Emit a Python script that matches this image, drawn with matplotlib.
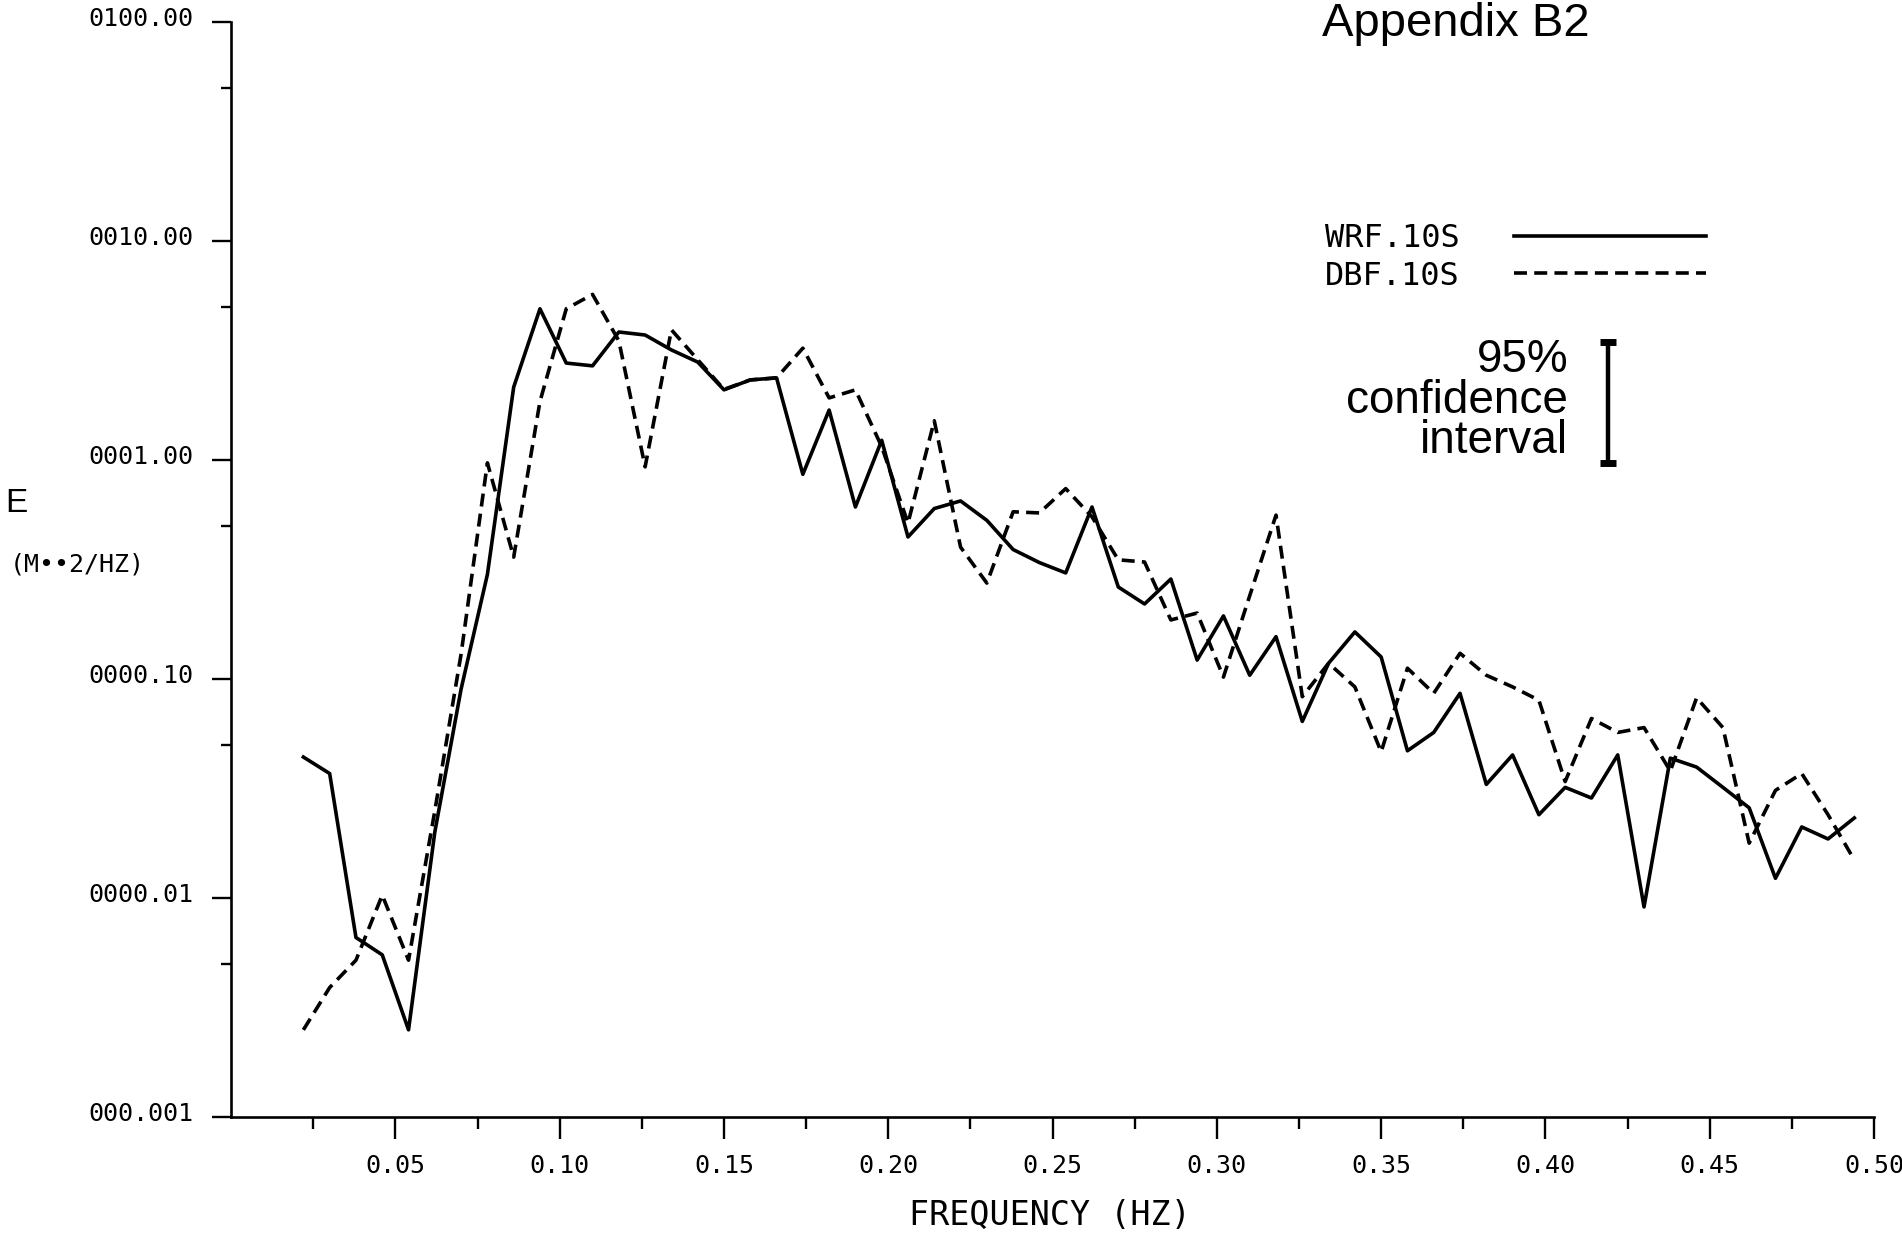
import numpy as np
import matplotlib
matplotlib.use("Agg")
import matplotlib.pyplot as plt
from matplotlib.ticker import FixedLocator, FixedFormatter, NullFormatter
from matplotlib.transforms import ScaledTranslation

# frequencies (Hz) of the spectral estimates
freq = [0.022, 0.030, 0.038, 0.046, 0.054, 0.062, 0.070, 0.078, 0.086, 0.094,
        0.102, 0.110, 0.118, 0.126, 0.134, 0.142, 0.150, 0.158, 0.166, 0.174,
        0.182, 0.190, 0.198, 0.206, 0.214, 0.222, 0.230, 0.238, 0.246, 0.254,
        0.262, 0.270, 0.278, 0.286, 0.294, 0.302, 0.310, 0.318, 0.326, 0.334,
        0.342, 0.350, 0.358, 0.366, 0.374, 0.382, 0.390, 0.398, 0.406, 0.414,
        0.422, 0.430, 0.438, 0.446, 0.454, 0.462, 0.470, 0.478, 0.486, 0.494]

# WRF.10S spectrum (solid)
wrf = [0.044, 0.037, 0.0066, 0.0055, 0.0025, 0.020, 0.09, 0.30, 2.15, 4.9,
       2.77, 2.69, 3.84, 3.72, 3.18, 2.8, 2.09, 2.32, 2.37, 0.86,
       1.69, 0.61, 1.23, 0.445, 0.60, 0.65, 0.53, 0.39, 0.34, 0.305,
       0.61, 0.263, 0.22, 0.286, 0.122, 0.194, 0.104, 0.156, 0.064, 0.118,
       0.164, 0.126, 0.047, 0.057, 0.086, 0.033, 0.045, 0.024, 0.032, 0.0286,
       0.045, 0.0091, 0.0435, 0.0396, 0.032, 0.0258, 0.0123, 0.0211, 0.0186, 0.0232]

# DBF.10S spectrum (dashed)
dbf = [0.0025, 0.0039, 0.0052, 0.0103, 0.0052, 0.025, 0.13, 0.97, 0.36, 1.85,
       4.9, 5.7, 3.5, 0.93, 3.93, 2.87, 2.1, 2.32, 2.37, 3.24,
       1.92, 2.09, 1.15, 0.515, 1.51, 0.40, 0.274, 0.58, 0.573, 0.74,
       0.55, 0.35, 0.342, 0.186, 0.20, 0.102, 0.24, 0.56, 0.083, 0.118,
       0.092, 0.0465, 0.112, 0.086, 0.131, 0.104, 0.092, 0.080, 0.034, 0.066,
       0.057, 0.060, 0.038, 0.082, 0.060, 0.0178, 0.031, 0.037, 0.024, 0.0149]

ytick_vals = [0.001, 0.01, 0.1, 1, 10, 100]
ytick_labels = ["000.001", "0000.01", "0000.10", "0001.00", "0010.00", "0100.00"]
xtick_vals = [0.05, 0.10, 0.15, 0.20, 0.25, 0.30, 0.35, 0.40, 0.45, 0.50]
xtick_labels = ["0.05", "0.10", "0.15", "0.20", "0.25", "0.30", "0.35", "0.40", "0.45", "0.50"]

# 95% confidence bar (frequency, lower, upper)
ci_f = 0.419
ci_lo = 0.97
ci_hi = 3.46

mono = "DejaVu Sans Mono"
sans = "Liberation Sans"

fig = plt.figure(figsize=(19.02, 12.40), dpi=100)
ax = fig.add_axes([0.1215, 0.0992, 0.8638, 0.8831])

ax.plot(freq, wrf, color="black", lw=2.6, label="WRF.10S")
ax.plot(freq, dbf, color="black", lw=2.6, linestyle=(0, (3.6, 2.0)), label="DBF.10S")

ax.set_yscale("log")
ax.set_ylim(0.001, 100)
ax.set_xlim(0, 0.5)

ax.yaxis.set_major_locator(FixedLocator(ytick_vals))
ax.yaxis.set_major_formatter(FixedFormatter(ytick_labels))
ax.yaxis.set_minor_locator(FixedLocator([0.005, 0.05, 0.5, 5, 50]))
ax.yaxis.set_minor_formatter(NullFormatter())
ax.xaxis.set_major_locator(FixedLocator(xtick_vals))
ax.xaxis.set_major_formatter(FixedFormatter(xtick_labels))
ax.xaxis.set_minor_locator(FixedLocator([0.025, 0.075, 0.125, 0.175, 0.225, 0.275,
                                         0.325, 0.375, 0.425, 0.475]))

for s in ["top", "right"]:
    ax.spines[s].set_visible(False)
for s in ["left", "bottom"]:
    ax.spines[s].set_linewidth(1.9)

ax.tick_params(axis="y", which="major", direction="out", length=14, width=1.7, pad=13)
ax.tick_params(axis="y", which="minor", direction="out", length=7, width=1.7)
ax.tick_params(axis="x", which="major", direction="out", length=16, width=1.7, pad=11)
ax.tick_params(axis="x", which="minor", direction="out", length=8.5, width=1.7)

off = ScaledTranslation(0, 4 / 72, fig.dpi_scale_trans)
for lab in ax.get_yticklabels():
    lab.set_fontfamily(mono)
    lab.set_fontsize(18)
    lab.set_transform(lab.get_transform() + off)
for lab in ax.get_xticklabels():
    lab.set_fontfamily(mono)
    lab.set_fontsize(18)

# confidence interval bar
ax.plot([ci_f, ci_f], [ci_lo, ci_hi], color="black", lw=3.2,
        marker="_", markersize=12, markeredgewidth=5, solid_capstyle="butt")

leg = ax.legend(loc="upper left", bbox_to_anchor=(0.6966, 0.820),
                bbox_transform=fig.transFigure, frameon=False, markerfirst=False,
                handlelength=6.0, handletextpad=1.7, labelspacing=0.2,
                borderpad=0, borderaxespad=0, prop={"family": mono, "size": 23})

fig.text(0.695, 0.971, "Appendix B2", fontsize=34, family=sans, va="baseline", ha="left")
fig.text(0.8245, 0.677, "95%\nconfidence\ninterval", fontsize=33, family=sans,
         ha="right", va="center", multialignment="right", linespacing=0.9)

fig.text(0.003, 0.594, "E", fontsize=24, family=sans, va="center", ha="left")
fig.text(0.005, 0.545, "(M\u2022\u20222/HZ)", fontsize=18, family=mono, va="center", ha="left")
fig.text(0.552, 0.020, "FREQUENCY (HZ)", fontsize=24, family=mono, va="center", ha="center")

fig.savefig("out.png", dpi=100)
